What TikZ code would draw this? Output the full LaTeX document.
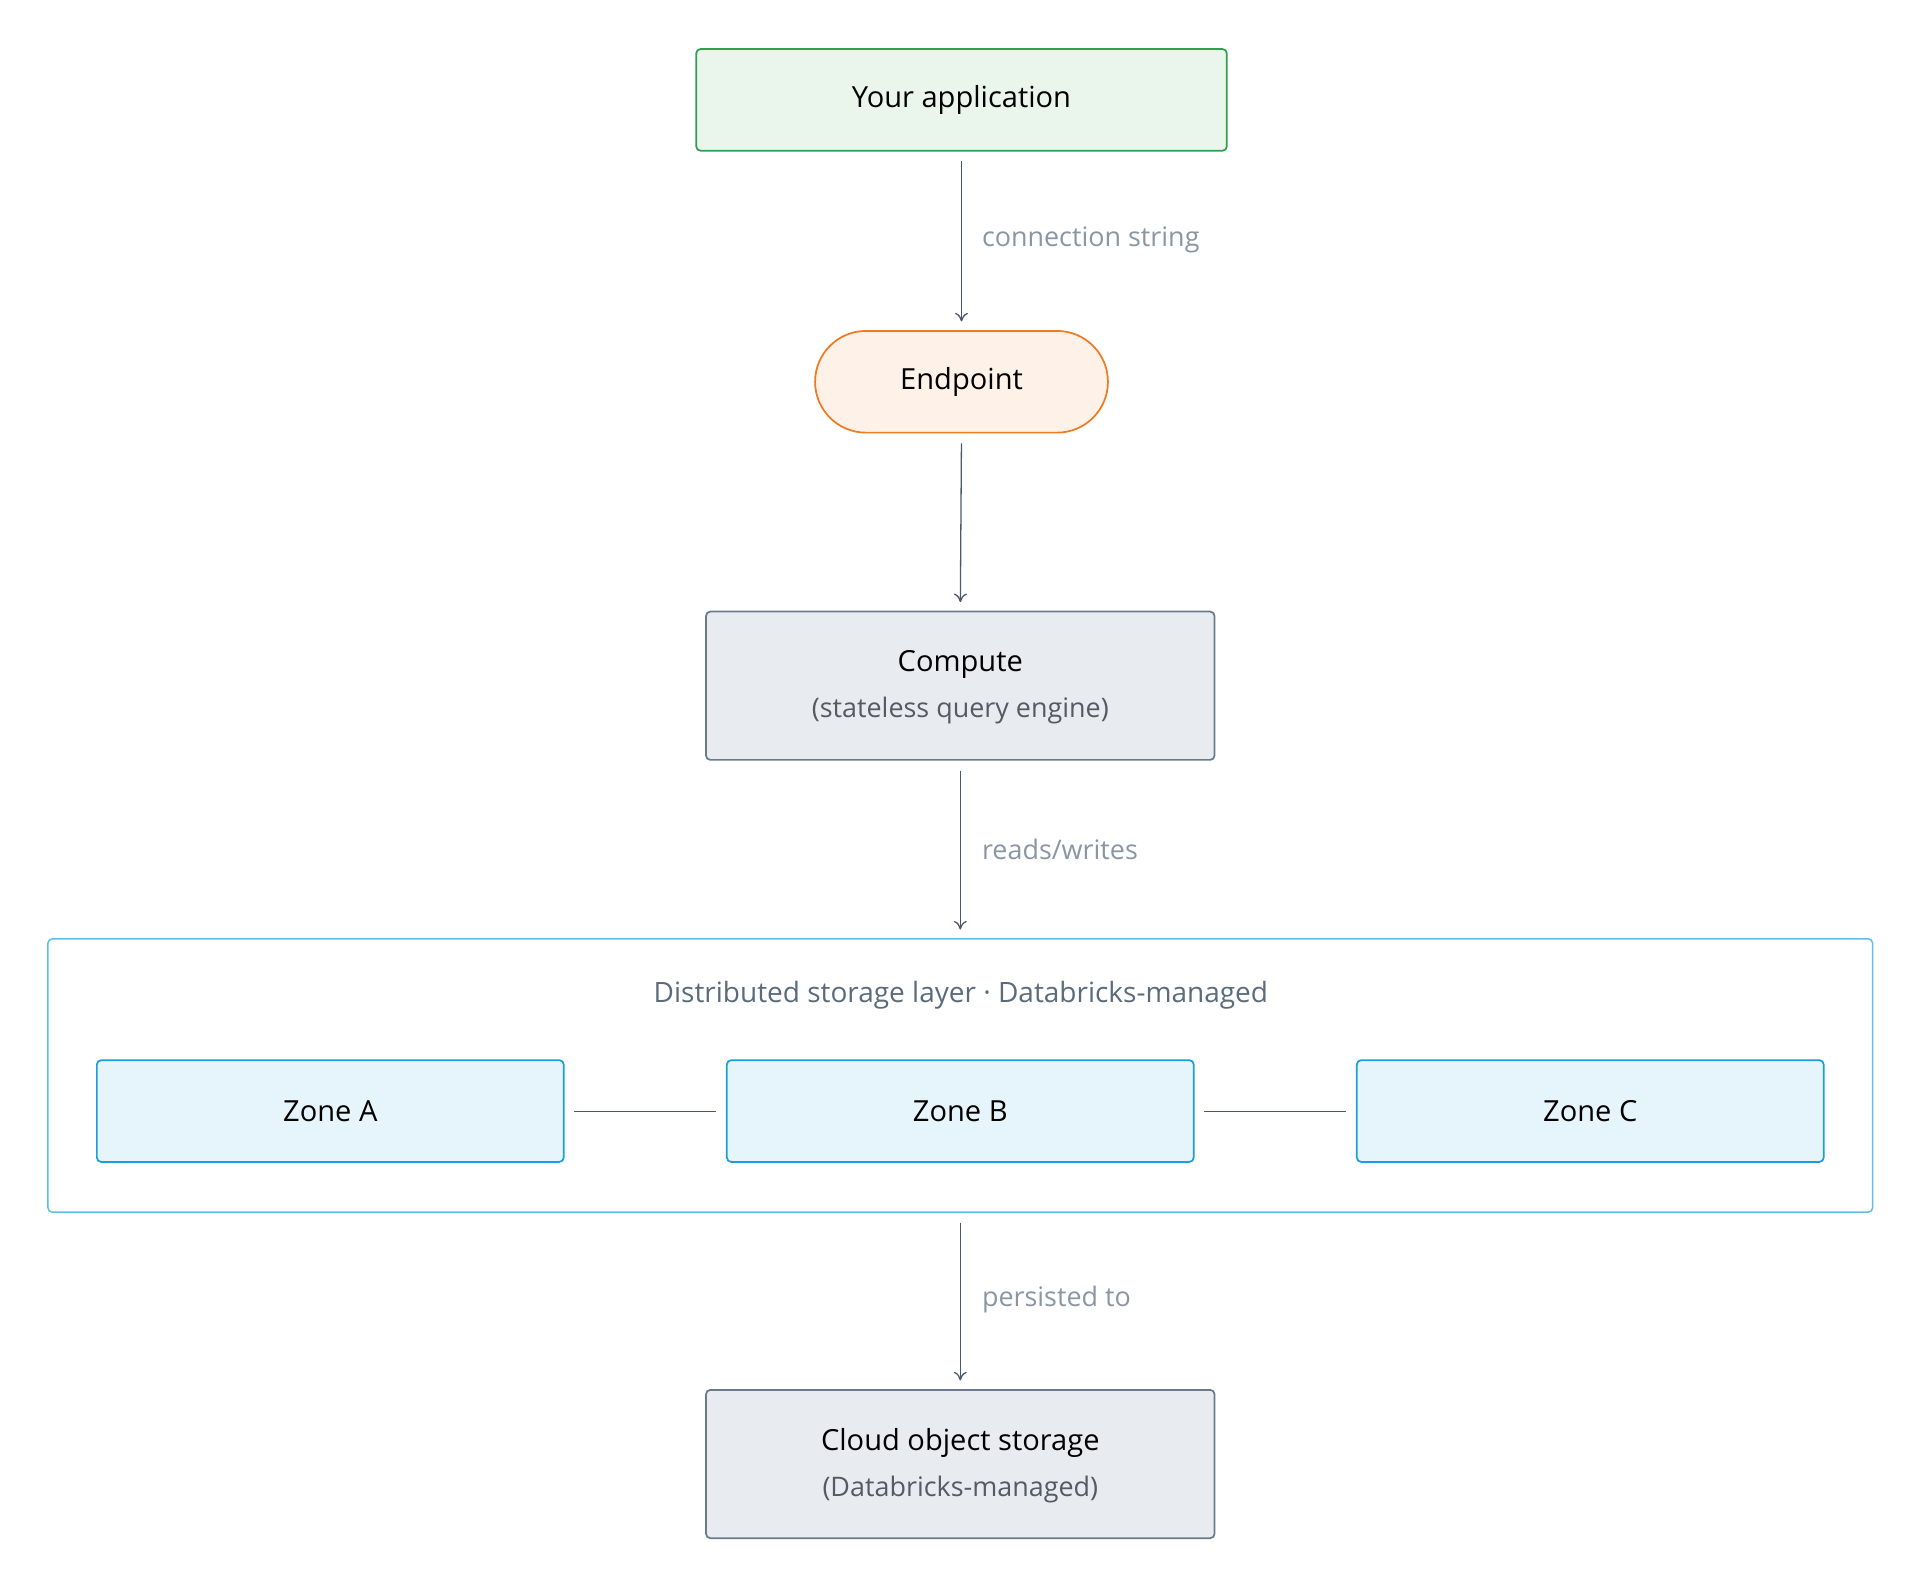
\documentclass[tikz,border=0pt]{standalone}
\usepackage{fontspec}
\setmainfont{Open Sans}
\usetikzlibrary{arrows.meta}
\definecolor{appfill}{HTML}{EAF5EC}\definecolor{appdraw}{HTML}{2EA04F}
\definecolor{epfill}{HTML}{FEF1E8}\definecolor{epdraw}{HTML}{F07A1F}
\definecolor{grfill}{HTML}{E8EBEF}\definecolor{grdraw}{HTML}{6B7A8A}
\definecolor{zfill}{HTML}{E6F4FB}\definecolor{zdraw}{HTML}{1A9FDB}
\definecolor{cdraw}{HTML}{5BC0EB}
\definecolor{lbl}{HTML}{8A96A3}\definecolor{arr}{HTML}{4A5A6A}
\definecolor{sub}{HTML}{555B62}\definecolor{ttl}{HTML}{5A6B7B}
\begin{document}
\begin{tikzpicture}[x=0.02cm,y=-0.02cm,
  box/.style={draw,line width=0.8pt,rounded corners=2pt,align=center,font=\fontsize{13.5}{20}\selectfont,inner sep=0pt},
  conn/.style={draw=arr,line width=0.6pt,-{To[length=4pt,width=6pt]},shorten <=0.16cm,shorten >=0.14cm},
  lab/.style={text=lbl,font=\fontsize{12.5}{15}\selectfont,anchor=west},
  subt/.style={text=sub,font=\fontsize{12.5}{15}\selectfont}]
\useasboundingbox (0,0) rectangle (1560,1290);
\node[box,fill=appfill,draw=appdraw,minimum width=8.66cm,minimum height=1.66cm] (app) at (784.5,81.5) {Your application};
\node[box,fill=epfill,draw=epdraw,rounded corners=0.83cm,minimum width=4.78cm,minimum height=1.66cm] (ep) at (784.5,311.5) {Endpoint};
\node[box,fill=grfill,draw=grdraw,minimum width=8.3cm,minimum height=2.42cm] (comp) at (783.5,559.5) {};
\node (compt) at (783.5,542) {\fontsize{13.5}{16}\selectfont Compute};
\node[subt] (comps) at (783.5,580) {(stateless query engine)};
\node[draw=cdraw,line width=0.7pt,rounded corners=2pt,minimum width=29.78cm,minimum height=4.46cm] (cont) at (783.5,877.5) {};
\node[text=ttl,font=\fontsize{13}{16}\selectfont] (contt) at (784,812) {Distributed storage layer · Databricks-managed};
\node[box,fill=zfill,draw=zdraw,minimum width=7.62cm,minimum height=1.66cm] (za) at (269.5,906.5) {Zone A};
\node[box,fill=zfill,draw=zdraw,minimum width=7.62cm,minimum height=1.66cm] (zb) at (783.5,906.5) {Zone B};
\node[box,fill=zfill,draw=zdraw,minimum width=7.62cm,minimum height=1.66cm] (zc) at (1297.5,906.5) {Zone C};
\node[box,fill=grfill,draw=grdraw,minimum width=8.3cm,minimum height=2.42cm] (cloud) at (783.5,1194.5) {};
\node (cloudt) at (783.5,1177) {\fontsize{13.5}{16}\selectfont Cloud object storage};
\node[subt] (clouds) at (783.5,1215) {(Databricks-managed)};
\draw[conn] (app.south) -- (ep.north);
\node[lab] (l1) at (795,196) {connection string};
\draw[conn] (ep.south) -- (comp.north);
\draw[conn] (comp.south) -- (cont.north);
\node[lab] (l2) at (795,693) {reads/writes};
\draw[conn] (cont.south) -- (cloud.north);
\node[lab] (l3) at (795,1060) {persisted to};
\draw[draw=arr,line width=0.5pt,shorten <=0.16cm,shorten >=0.16cm] (za.east) -- (zb.west);
\draw[draw=arr,line width=0.5pt,shorten <=0.16cm,shorten >=0.16cm] (zb.east) -- (zc.west);
\end{tikzpicture}
\end{document}
